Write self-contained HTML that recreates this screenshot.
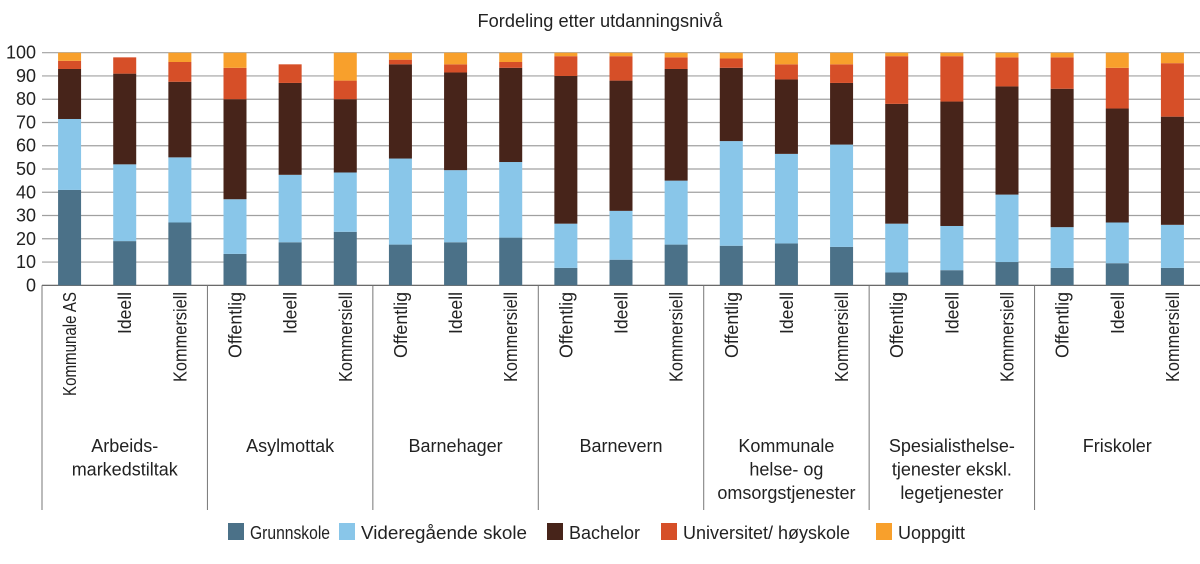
<!DOCTYPE html>
<html><head><meta charset="utf-8"><style>
body{margin:0;background:#fff;width:1200px;height:559px;overflow:hidden;font-family:"Liberation Sans",sans-serif}
</style></head><body>
<svg id="chart" width="1200" height="559" xmlns="http://www.w3.org/2000/svg" font-family="Liberation Sans, sans-serif">
<text x="600" y="27" text-anchor="middle" font-size="18" fill="#222" textLength="245" lengthAdjust="spacingAndGlyphs">Fordeling etter utdanningsnivå</text>
<g id="grid"></g><g id="bars"></g><g id="axes"></g><g id="legend"></g>
</svg>
<script>
const groups = [["Arbeids-","markedstiltak"],["Asylmottak"],["Barnehager"],["Barnevern"],["Kommunale","helse- og","omsorgstjenester"],["Spesialisthelse-","tjenester ekskl.","legetjenester"],["Friskoler"]];
const categories = ["Kommunale AS","Ideell","Kommersiell","Offentlig","Ideell","Kommersiell","Offentlig","Ideell","Kommersiell","Offentlig","Ideell","Kommersiell","Offentlig","Ideell","Kommersiell","Offentlig","Ideell","Kommersiell","Offentlig","Ideell","Kommersiell"];
const seriesNames = ["Grunnskole","Videregående skole","Bachelor","Universitet/ høyskole","Uoppgitt"];
const grunnskole = [41,19,27,13.5,18.5,23,17.5,18.5,20.5,7.5,11,17.5,17,18,16.5,5.5,6.5,10,7.5,9.5,7.5];
const videregaende = [30.5,33,28,23.5,29,25.5,37,31,32.5,19,21,27.5,45,38.5,44,21,19,29,17.5,17.5,18.5];
const bachelor = [21.5,39,32.5,43,39.5,31.5,40.5,42,40.5,63.5,56,48,31.5,32,26.5,51.5,53.5,46.5,59.5,49,46.5];
const universitet = [3.5,7,8.5,13.5,8,8,2,3.5,2.5,8.5,10.5,5,4,6.5,8,20.5,19.5,12.5,13.5,17.5,23];
const uoppgitt = [3.5,0,4,6.5,0,12,3,5,4,1.5,1.5,2,2.5,5,5,1.5,1.5,2,2,6.5,4.5];
const yTicks = [0,10,20,30,40,50,60,70,80,90,100];
const colors = ["#4b7188","#89c6e9","#47241a","#d64f28","#f8a02c"];
const NS="http://www.w3.org/2000/svg";
const x0=42,x1=1200,y0=285.3,y1=52.7;
const groupW=(x1-x0)/groups.length;
const y=v=>y0-(v/100)*(y0-y1);
const xc=i=>x0+Math.floor(i/3)*groupW+groupW*((i%3)*2+1)/6;
function mk(t,a,p){const e=document.createElementNS(NS,t);for(const k in a)e.setAttribute(k,a[k]);(p||document.getElementById('chart')).appendChild(e);return e;}
const grid=document.getElementById('grid'),bars=document.getElementById('bars'),axes=document.getElementById('axes'),legend=document.getElementById('legend');
yTicks.forEach(t=>{
  const l=mk('line',{x1:x0,x2:x1,y1:y(t),y2:y(t),stroke:t===0?'#555':'#a0a0a0','stroke-width':1.2},grid);
  
  
  const tx=mk('text',{x:36,y:y(t)+6,'text-anchor':'end','font-size':18,fill:'#222'},axes);tx.textContent=t;
  
  
});
const series=[grunnskole,videregaende,bachelor,universitet,uoppgitt];
categories.forEach((c,i)=>{
  let acc=0;
  series.forEach((s,k)=>{
    const v=s[i];if(v<=0){return;}
    const r=mk('rect',{x:xc(i)-11.5,width:23,y:y(acc+v),height:y(acc)-y(acc+v),fill:colors[k]},bars);
    
    
    acc+=v;
  });
  const t=mk('text',{transform:`translate(${xc(i)+6.5},292) rotate(-90)`,'text-anchor':'end','font-size':18,fill:'#222'},axes);
  t.textContent=c;
  
  
  if(c==='Kommunale AS'){t.setAttribute('textLength','104');t.setAttribute('lengthAdjust','spacingAndGlyphs');}
  if(c==='Kommersiell'){t.setAttribute('textLength','90');t.setAttribute('lengthAdjust','spacingAndGlyphs');}
  if(c==='Offentlig'){t.setAttribute('textLength','66');t.setAttribute('lengthAdjust','spacingAndGlyphs');}
  if(c==='Ideell'){t.setAttribute('textLength','42');t.setAttribute('lengthAdjust','spacingAndGlyphs');}
});
for(let g=0;g<groups.length;g++){
  const gx=x0+g*groupW;
  const l=mk('line',{x1:gx,x2:gx,y1:y0,y2:510,stroke:'#777','stroke-width':1},axes);
  
  
}
groups.forEach((lines,g)=>{
  lines.forEach((s,j)=>{
    const t=mk('text',{x:x0+(g+0.5)*groupW,y:452+j*23.5,'text-anchor':'middle','font-size':18,fill:'#222'},axes);
    t.textContent=s;
    
    
  });
});
const lx=[228,339,547,661,876];
const lw=[80,166,71,167,67];
seriesNames.forEach((n,k)=>{
  const r=mk('rect',{x:lx[k],y:523,width:16,height:17,fill:colors[k]},legend);
  
  
  const t=mk('text',{x:lx[k]+22,y:539,'font-size':18,fill:'#222',textLength:lw[k],lengthAdjust:'spacingAndGlyphs'},legend);
  t.textContent=n;
  
  
});
</script>
</body></html>
